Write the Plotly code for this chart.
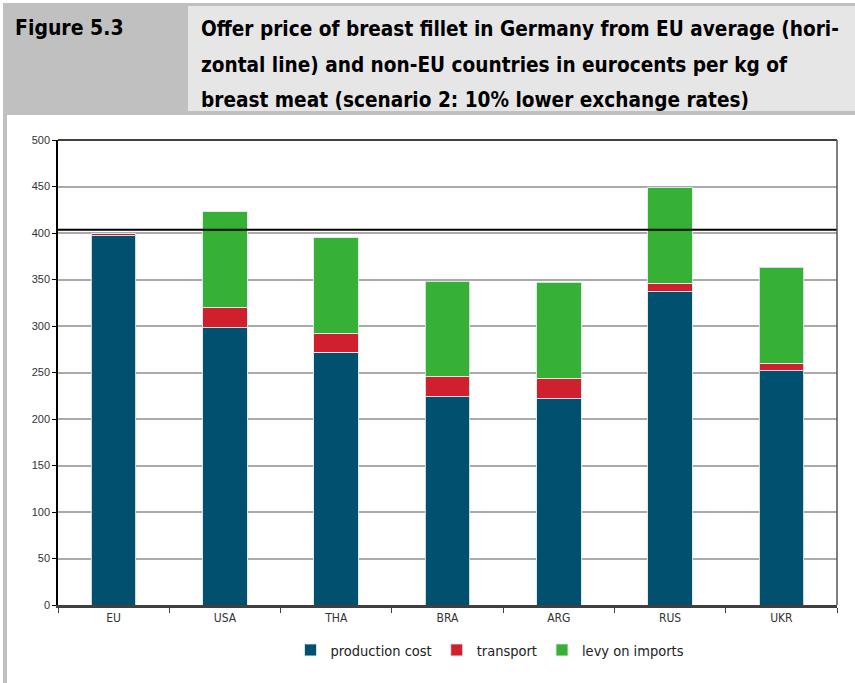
import plotly.graph_objects as go

categories = ["EU", "USA", "THA", "BRA", "ARG", "RUS", "UKR"]
production_cost = [397, 298, 272, 224, 222, 337, 252]
transport = [2.5, 22, 20, 22, 22, 9, 8]
levy_on_imports = [0, 103, 103, 102, 103, 103, 103]
eu_average = 403.5
y_ticks = [0, 50, 100, 150, 200, 250, 300, 350, 400, 450, 500]

W, H = 855, 683
L, R, T, B = 58, 18, 140, 78
PW, PH = W - L - R, H - T - B

def px(x):
    return (x - L) / PW

def py(y):
    return (H - B - y) / PH

cond = "DejaVu Sans Condensed, Arial Narrow, sans-serif"

fig = go.Figure()
series = [
    ("production cost", production_cost, "#01506f"),
    ("transport", transport, "#d0202e"),
    ("levy on imports", levy_on_imports, "#36b035"),
]
for name, vals, col in series:
    fig.add_trace(go.Bar(
        x=categories, y=vals, name=name,
        marker=dict(color=col, line=dict(color="rgba(220,235,240,0.9)", width=1)),
        width=0.4,
    ))

shapes = [
    dict(type="rect", xref="paper", yref="paper", x0=px(3), x1=px(856), y0=py(3), y1=py(115),
         fillcolor="#c0c0c0", line=dict(width=0), layer="below"),
    dict(type="rect", xref="paper", yref="paper", x0=px(188), x1=px(856), y0=py(6), y1=py(111),
         fillcolor="#e6e6e6", line=dict(width=0), layer="below"),
    dict(type="rect", xref="paper", yref="paper", x0=px(3), x1=px(7), y0=py(115), y1=py(684),
         fillcolor="#c0c0c0", line=dict(width=0), layer="below"),
    dict(type="line", xref="paper", yref="y", x0=0, x1=1, y0=eu_average, y1=eu_average,
         line=dict(color="black", width=2)),
    dict(type="line", xref="paper", yref="paper", x0=0, x1=1, y0=1, y1=1,
         line=dict(color="black", width=1.5)),
    dict(type="line", xref="paper", yref="paper", x0=1, x1=1, y0=0, y1=1,
         line=dict(color="#555555", width=1.5)),
]

title_lines = [
    "Offer price of breast fillet in Germany from EU average (hori-",
    "zontal line) and non-EU countries in eurocents per kg of",
    "breast meat (scenario 2: 10% lower exchange rates)",
]
annotations = [
    dict(text="<b>Figure 5.3</b>", xref="paper", yref="paper", x=px(13), y=py(28),
         xanchor="left", yanchor="middle", showarrow=False,
         font=dict(family=cond, size=21, color="black")),
]
for i, line in enumerate(title_lines):
    annotations.append(dict(text="<b>" + line + "</b>", xref="paper", yref="paper",
                            x=px(199), y=py(29 + 35.5 * i), xanchor="left", yanchor="middle",
                            showarrow=False, font=dict(family=cond, size=20.6, color="black")))

fig.update_layout(
    width=W, height=H,
    margin=dict(l=L, r=R, t=T, b=B, pad=0),
    paper_bgcolor="white", plot_bgcolor="white",
    barmode="stack", bargap=0.6,
    shapes=shapes, annotations=annotations,
    showlegend=True,
    legend=dict(orientation="h", x=px(490), y=py(650), xanchor="center", yanchor="middle",
                font=dict(family=cond, size=14.5, color="#222222"), traceorder="normal",
                itemwidth=30),
    xaxis=dict(
        showline=True, linecolor="#404040", linewidth=2.5,
        ticks="outside", ticklen=5, tickcolor="#404040", tickson="boundaries",
        tickfont=dict(family=cond, size=12, color="#333333"),
        showgrid=False,
    ),
    yaxis=dict(
        range=[0, 500], tickvals=y_ticks,
        showline=True, linecolor="black", linewidth=1.5,
        ticks="outside", ticklen=4, tickcolor="black",
        tickfont=dict(family="Liberation Sans, Arial, sans-serif", size=11, color="#333333"),
        showgrid=True, gridcolor="#aaaaaa", gridwidth=1.5,
        zeroline=False,
    ),
)

fig.write_html("out.html", config={"displayModeBar": False},
               post_script="document.body.style.margin='0';document.body.style.overflow='hidden';")
